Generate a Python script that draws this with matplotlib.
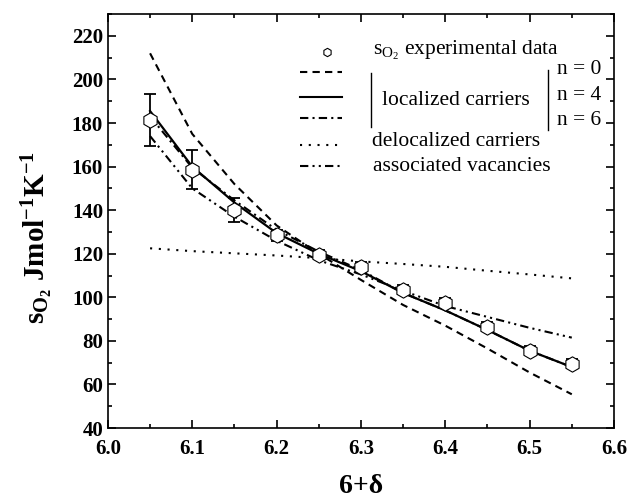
import numpy as np
import matplotlib
matplotlib.use('Agg')
import matplotlib.pyplot as plt

plt.rcParams['font.family'] = ['Liberation Serif', 'DejaVu Serif']
plt.rcParams['mathtext.default'] = 'regular'

# experimental points
delta = [6.05, 6.10, 6.15, 6.20, 6.25, 6.30, 6.35, 6.40, 6.45, 6.50, 6.55]
s_exp = [181.5, 158.5, 140, 128.5, 119.5, 114, 103.5, 97.5, 86.5, 75.5, 69.5]
s_err = [12, 9, 5.5, 2.5, 2, 2, 2, 2, 2, 2, 2]

# model curves, same x grid
s_n0 = [212, 175, 152, 133, 120, 108, 96.5, 87, 76.5, 65.5, 55.5]
s_n4 = [185.5, 160, 143.5, 129.5, 120, 112, 102, 94, 85, 75.5, 68]
s_n6 = [183, 159.5, 144.5, 131, 121, 112.5, 102, 94, 85, 75.5, 68]
s_deloc = [122.5, 121.2, 120.2, 119.2, 118, 116.5, 115.3, 114, 112.2, 110.5, 108.7]
s_assoc = [174, 150, 137, 126, 117, 110.5, 103, 96, 91, 86, 81.5]

ls_n0 = (0, (3.5, 2.5))
ls_n4 = '-'
ls_n6 = (0, (4, 2, 1, 2))
ls_deloc = (0, (1, 3.2))
ls_assoc = (0, (4, 2, 1, 2, 1, 2))

fig = plt.figure(figsize=(6.31, 5.03), dpi=100)
ax = fig.add_axes([0.171, 0.149, 0.802, 0.823])

ax.plot(delta, s_n0, color='black', lw=1.5, ls=ls_n0)
ax.plot(delta, s_n4, color='black', lw=1.6, ls=ls_n4)
ax.plot(delta, s_n6, color='black', lw=1.5, ls=ls_n6)
ax.plot(delta, s_deloc, color='black', lw=1.5, ls=ls_deloc)
ax.plot(delta, s_assoc, color='black', lw=1.5, ls=ls_assoc)

ax.errorbar(delta, s_exp, yerr=s_err, fmt='none', ecolor='black',
            elinewidth=1.3, capsize=4, capthick=1.3, zorder=3)
ax.plot(delta, s_exp, ls='none', marker='h', ms=11, mfc='white',
        mec='black', mew=0.8, zorder=4)

ax.set_xlim(6.0, 6.6)
ax.set_ylim(40, 230)
ax.set_xticks(np.arange(6.0, 6.61, 0.1))
ax.set_xticks(np.arange(6.05, 6.6, 0.1), minor=True)
ax.set_yticks(np.arange(40, 221, 20))
ax.set_yticks(np.arange(50, 231, 20), minor=True)
ax.tick_params(which='both', direction='in', top=True, right=True,
               width=1.2, labelsize=15)
ax.tick_params(which='major', length=5.5)
ax.tick_params(which='minor', length=3)
ax.tick_params(axis='x', pad=8)
for lab in ax.get_xticklabels() + ax.get_yticklabels():
    lab.set_fontweight('bold')
for sp in ax.spines.values():
    sp.set_linewidth(1.2)

ax.set_xlabel('6+δ', fontsize=20, fontweight='bold')
ax.xaxis.set_label_coords(0.5, -0.112)
ax.set_ylabel('s$_{O_2}$ Jmol$^{-1}$K$^{-1}$', fontsize=21,
              fontweight='bold')
ax.yaxis.set_label_coords(-0.105, 0.46)

# hand-made legend
tr = ax.transAxes
fs = 15.5
ax.plot([0.432], [0.909], ls='none', marker='h', ms=6, mfc='white',
        mec='black', mew=0.8, transform=tr)
ax.text(0.524, 0.913, 's$_{O_2}$ experimental data', fontsize=fs,
        va='center', transform=tr)
rows = [(0.861, ls_n0), (0.800, ls_n4), (0.748, ls_n6),
        (0.684, ls_deloc), (0.633, ls_assoc)]
for yy, ls in rows:
    ax.plot([0.379, 0.462], [yy, yy], color='black', lw=1.5, ls=ls,
            transform=tr)
ax.plot([0.519, 0.519], [0.727, 0.857], color='black', lw=1, transform=tr)
ax.plot([0.869, 0.869], [0.720, 0.865], color='black', lw=1, transform=tr)
ax.text(0.541, 0.792, 'localized carriers', fontsize=fs, va='center',
        transform=tr)
for yy, lab in [(0.865, 'n = 0'), (0.804, 'n = 4'), (0.744, 'n = 6')]:
    ax.text(0.887, yy, lab, fontsize=fs, va='center', transform=tr)
ax.text(0.521, 0.692, 'delocalized carriers', fontsize=fs, va='center',
        transform=tr)
ax.text(0.524, 0.632, 'associated vacancies', fontsize=fs, va='center',
        transform=tr)

fig.savefig('out.png', dpi=100)
